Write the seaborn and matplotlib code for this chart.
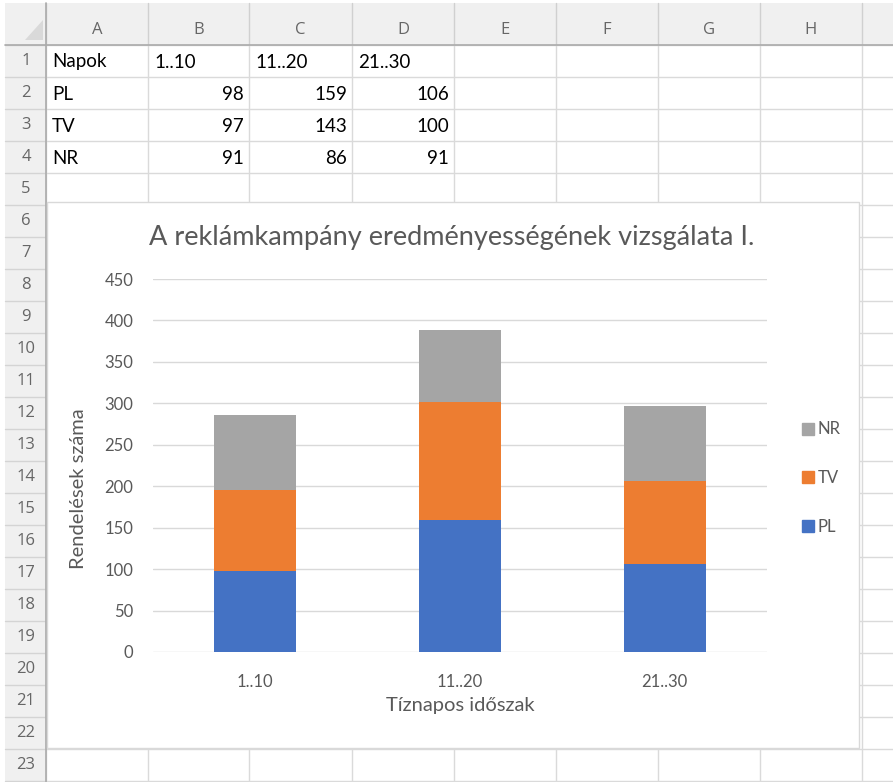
import numpy as np
import pandas as pd
import matplotlib
matplotlib.use("Agg")
import matplotlib.pyplot as plt
import matplotlib.patches as mpatches
import seaborn as sns

# data
periods = ["1..10", "11..20", "21..30"]
pl = [98, 159, 106]
tv = [97, 143, 100]
nr = [91, 86, 91]
series_names = ["PL", "TV", "NR"]
colors = {"PL": "#4472C4", "TV": "#ED7D31", "NR": "#A5A5A5"}
col_letters = ["A", "B", "C", "D", "E", "F", "G", "H"]
header_row = ["Napok"] + periods

sns.set_style("white")
plt.rcParams["font.family"] = ["Lato", "DejaVu Sans"]

W, H = 893, 782
fig = plt.figure(figsize=(W / 100, H / 100), dpi=100)

# spreadsheet background drawn in pixel coords
sheet = fig.add_axes([0, 0, 1, 1])
sheet.set_xlim(0, W)
sheet.set_ylim(H, 0)
sheet.axis("off")

col_edges = [46, 148, 249, 352, 454, 556, 658, 760, 862]
row_h = 32
top = 45
hdr_gray = "#F0F0F0"
grid_c = "#DADADA"

sheet.add_patch(mpatches.Rectangle((5, 3), W - 5, top - 3, color=hdr_gray, lw=0))
sheet.add_patch(mpatches.Rectangle((5, top), 41, H - top, color=hdr_gray, lw=0))
sheet.add_patch(mpatches.Polygon([(43, 20), (43, 40), (25, 40)], color="#D9D9D9", lw=0))

for k in range(24):
    y = top + row_h * k
    sheet.plot([5, 46], [y, y], color="#D4D4D4", lw=1)
    sheet.plot([46, W], [y, y], color=grid_c, lw=1)
for x in col_edges:
    sheet.plot([x, x], [3, top], color="#D0D0D0", lw=1)
    sheet.plot([x, x], [top, H], color=grid_c, lw=1)
sheet.plot([5, W], [top, top], color="#ABABAB", lw=1.2)
sheet.plot([46, 46], [3, H], color="#ABABAB", lw=1.2)

for i, letter in enumerate(col_letters):
    cx = (col_edges[i] + col_edges[i + 1]) / 2
    sheet.text(cx, 30, letter, ha="center", va="center", fontsize=12,
               color="#666666", family="Open Sans")
for r in range(1, 24):
    sheet.text(26, 29 + row_h * r, str(r), ha="center", va="center",
               fontsize=12, color="#666666", family="Open Sans")

# cell contents
for i, txt in enumerate(header_row):
    sheet.text(col_edges[i] + 6, 62, txt, ha="left", va="center", fontsize=13.5, color="black")
for r, (name, vals) in enumerate(zip(series_names, [pl, tv, nr])):
    y = 62 + row_h * (r + 1)
    sheet.text(col_edges[0] + 6, y, name, ha="left", va="center", fontsize=13.5, color="black")
    for j, v in enumerate(vals):
        sheet.text(col_edges[j + 2] - 5, y, str(v), ha="right", va="center",
                   fontsize=13.5, color="black")

# chart area
sheet.add_patch(mpatches.Rectangle((47, 202), 812, 546, facecolor="white",
                                   edgecolor="#D9D9D9", lw=1, zorder=5))
sheet.text(452, 238, "A reklámkampány eredményességének vizsgálata I.", ha="center",
           va="center", fontsize=19.5, color="#595959", zorder=6)

# plot area
x0, x1, y0, y1 = 153, 767, 279, 652
ax = fig.add_axes([x0 / W, 1 - y1 / H, (x1 - x0) / W, (y1 - y0) / H])
ax.set_facecolor("none")

df = pd.DataFrame({"period": periods, "PL": pl, "TV": tv, "NR": nr})
df["PL+TV"] = df["PL"] + df["TV"]
df["total"] = df["PL+TV"] + df["NR"]

# stacked look: totals first, then partial sums over them
for col, name, z in [("total", "NR", 2), ("PL+TV", "TV", 3), ("PL", "PL", 4)]:
    sns.barplot(data=df, x="period", y=col, color=colors[name], width=0.4,
                saturation=1, linewidth=0, edgecolor="none", ax=ax, zorder=z)

ax.set_ylim(0, 450)
ax.set_xlim(-0.5, 2.5)
ax.set_yticks(range(0, 451, 50))
ax.yaxis.grid(True, color="#D9D9D9", lw=1)
ax.set_axisbelow(True)
for s in ax.spines.values():
    s.set_visible(False)
ax.tick_params(axis="y", length=0, pad=14, labelsize=12, labelcolor="#595959")
ax.tick_params(axis="x", length=0, pad=16, labelsize=12, labelcolor="#595959")

ax.set_xlabel("Tíznapos időszak", fontsize=14.5, color="#595959")
ax.xaxis.set_label_coords(0.5, (y1 - 697) / (y1 - y0))
ax.set_ylabel("Rendelések száma", fontsize=14.5, color="#595959")
ax.yaxis.label.set_va("center")
ax.yaxis.set_label_coords((78 - x0) / (x1 - x0), (y1 - 489) / (y1 - y0))

handles = [mpatches.Patch(color=colors[n]) for n in ["NR", "TV", "PL"]]
leg = ax.legend(handles, ["NR", "TV", "PL"], loc="center left",
                bbox_to_anchor=(802 / W, 1 - 478 / H), bbox_transform=fig.transFigure,
                frameon=False, fontsize=12, handlelength=0.7, handleheight=0.7,
                handletextpad=0.25, labelspacing=1.95, borderpad=0, borderaxespad=0)
for t in leg.get_texts():
    t.set_color("#595959")

fig.savefig("out.png", dpi=100)
